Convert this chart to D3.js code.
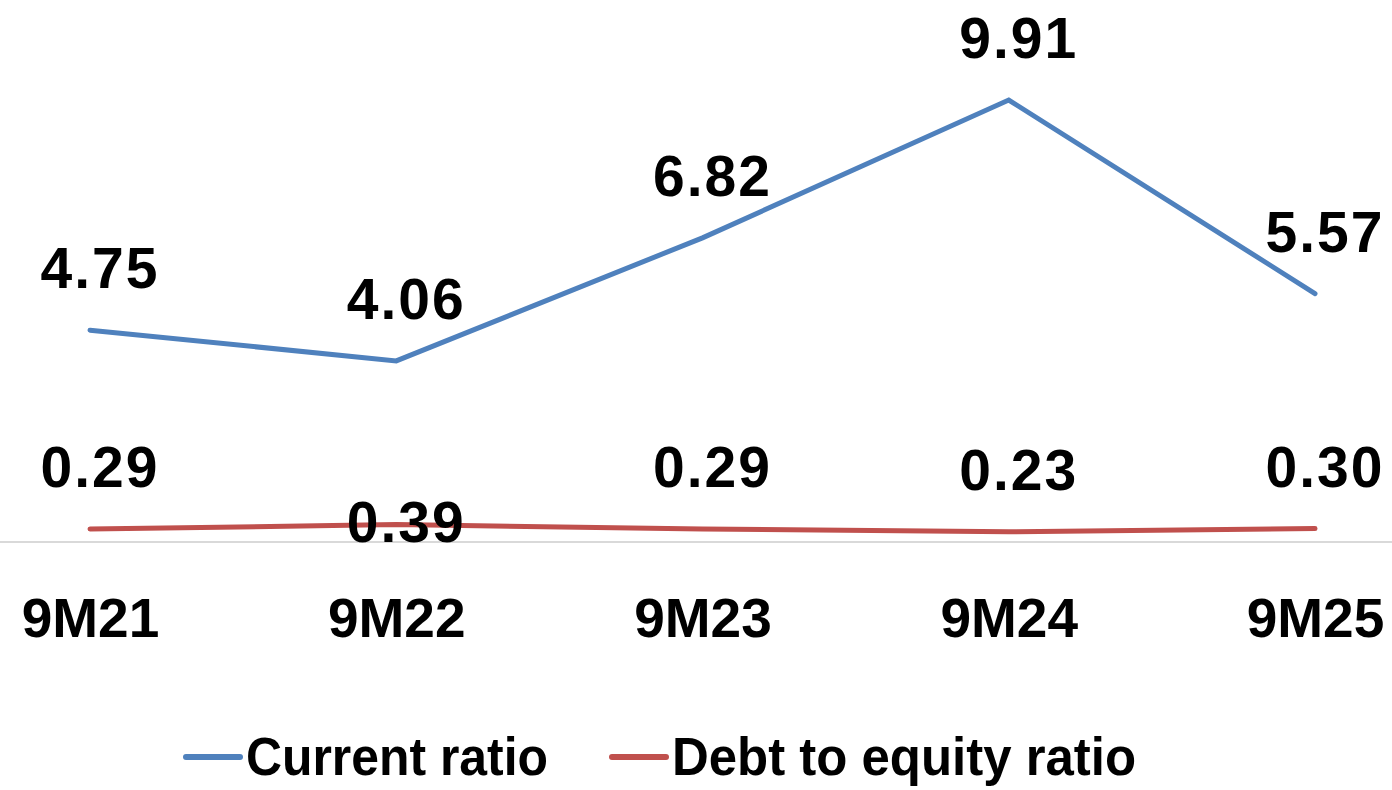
<!DOCTYPE html>
<html>
<head>
<meta charset="utf-8">
<script src="https://cdn.jsdelivr.net/npm/d3@7"></script>
<style>
  body { margin: 0; background: #fff; }
  text { font-family: "Liberation Sans", Arial, sans-serif; font-weight: bold; fill: #000; }
</style>
</head>
<body>
<script>
// chart data
var categories = ["9M21", "9M22", "9M23", "9M24", "9M25"];
var currentRatio = [4.75, 4.06, 6.82, 9.91, 5.57];
var debtToEquity = [0.29, 0.39, 0.29, 0.23, 0.30];
var seriesNames = ["Current ratio", "Debt to equity ratio"];
// where each label sits: true = above the point, false = below
var debtAbove = [true, false, true, true, true];

var width = 1392, height = 790;
var baseY = 542;

var svg = d3.select("body").append("svg")
    .attr("width", width)
    .attr("height", height);

var x = d3.scalePoint().domain(categories).range([90, 1315]);
var y = d3.scaleLinear().domain([0, 10]).range([baseY, baseY - 446]);

// baseline
svg.append("line")
    .attr("x1", 0).attr("x2", width)
    .attr("y1", baseY).attr("y2", baseY)
    .style("stroke", "#d9d9d9")
    .style("stroke-width", 2);

// category axis
var axis = svg.append("g")
    .attr("transform", "translate(0," + baseY + ")")
    .call(d3.axisBottom(x).tickSize(0).tickPadding(0));
axis.select(".domain").remove();
axis.selectAll("text")
    .attr("y", 95)
    .attr("dy", null)
    .style("font-size", "55px")
    .style("font-family", "'Liberation Sans', Arial, sans-serif")
    .style("font-weight", "bold")
    .attr("fill", "#000");

var line = d3.line()
    .x((d, i) => x(categories[i]))
    .y(d => y(d));

var series = [
    {name: seriesNames[0], values: currentRatio, color: "#4f81bd", above: currentRatio.map(() => true)},
    {name: seriesNames[1], values: debtToEquity, color: "#c0504d", above: debtAbove}
];

series.forEach(function(s) {
    var g = svg.append("g");
    g.append("path")
        .datum(s.values)
        .attr("d", line)
        .style("fill", "none")
        .style("stroke", s.color)
        .style("stroke-width", 5)
        .style("stroke-linecap", "round")
        .style("stroke-linejoin", "miter");

    g.selectAll("text").data(s.values)
        .enter()
        .append("text")
        .text(d => d.toFixed(2))
        .attr("x", (d, i) => x(categories[i]) + 10)
        .attr("y", (d, i) => s.above[i] ? y(d) - 42 : y(d) + 17)
        .attr("text-anchor", "middle")
        .style("font-size", "57px")
        .style("letter-spacing", "2px");
});

// legend
var legendX = [186, 612];
var legendW = [302, 464];
series.forEach(function(s, i) {
    var lg = svg.append("g");
    lg.append("line")
        .attr("x1", legendX[i]).attr("x2", legendX[i] + 54)
        .attr("y1", 757).attr("y2", 757)
        .style("stroke", s.color)
        .style("stroke-width", 6)
        .style("stroke-linecap", "round");
    lg.append("text")
        .text(s.name)
        .attr("x", legendX[i] + 60)
        .attr("y", 775)
        .attr("textLength", legendW[i])
        .attr("lengthAdjust", "spacingAndGlyphs")
        .style("font-size", "54px");
});
</script>
</body>
</html>
